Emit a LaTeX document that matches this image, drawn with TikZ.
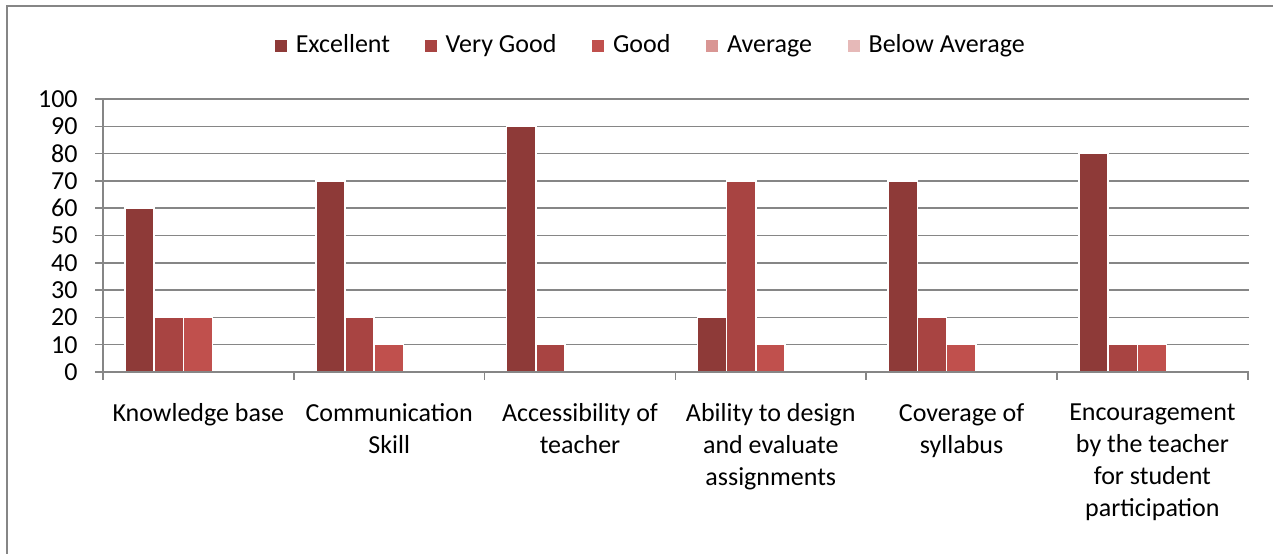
\documentclass[tikz,border=0pt]{standalone}
\usepackage{fontspec}
\setmainfont{Carlito}
\usetikzlibrary{positioning}

\definecolor{excellent}{HTML}{8E3A38}
\definecolor{verygood}{HTML}{A84442}
\definecolor{good}{HTML}{C0504D}
\definecolor{average}{HTML}{D99694}
\definecolor{belowavg}{HTML}{E6B9B8}
\definecolor{axisgray}{HTML}{868686}

\tikzset{
  gridline/.style={axisgray, line width=0.75pt},
  bar/.style={fill=#1, draw=white, line width=0.75pt},
  legkey/.style={fill=#1, minimum size=6pt, inner sep=0pt},
  legtext/.style={inner sep=0pt, text height=0.8em, text depth=0.2em},
  catlabel/.style={anchor=north, align=center, inner sep=0pt}
}

\begin{document}
\begin{tikzpicture}[x=0.5pt, y=-0.5pt, font=\fontsize{13}{16}\selectfont]
        \useasboundingbox (0,0) rectangle (1273,553);
        \clip (0,0) rectangle (1273,553);
        \draw[axisgray, line width=1pt] (7,6) rectangle (1300,580);

        % legend
        \node[legkey=excellent] (kexc) at (281,46) {};
        \node[legtext, right=4pt of kexc] (lexc) {Excellent};
        \node[legkey=verygood, right=17pt of lexc] (kvg) {};
        \node[legtext, right=4pt of kvg] (lvg) {Very Good};
        \node[legkey=good, right=17.5pt of lvg] (kgood) {};
        \node[legtext, right=4pt of kgood] (lgood) {Good};
        \node[legkey=average, right=17.5pt of lgood] (kavg) {};
        \node[legtext, right=4pt of kavg] (lavg) {Average};
        \node[legkey=belowavg, right=17.5pt of lavg] (kbel) {};
        \node[legtext, right=4pt of kbel] (lbel) {Below Average};

        % grid and value labels
        \foreach \v in {10,20,...,100}
            \draw[gridline] (95,{372-2.73*\v}) -- (1249,{372-2.73*\v});
        \foreach \v in {0,10,...,100}
            \node[anchor=east, inner sep=0pt] (val\v) at (78,{372-2.73*\v}) {\v};

        % bars: excellent, very good, good
        \foreach \i/\a/\b/\c in {0/60/20/20, 1/70/20/10, 2/90/10/0, 3/20/70/10, 4/70/20/10, 5/80/10/10}{
            \pgfmathsetmacro\xl{103+190.8*\i+22}
            \filldraw[bar=excellent] (\xl,372) rectangle ++(29.2,{-2.73*\a});
            \filldraw[bar=verygood] (\xl+29.2,372) rectangle ++(29.2,{-2.73*\b});
            \ifnum\c>0
                \filldraw[bar=good] (\xl+58.4,372) rectangle ++(29.2,{-2.73*\c});
            \fi
        }

        % axes
        \draw[gridline] (103,99) -- (103,372);
        \draw[gridline] (95,372) -- (1249,372);
        \foreach \i in {0,...,6}
            \draw[gridline] ({103+190.8*\i},372) -- ({103+190.8*\i},380);

        % category labels
        \foreach \i/\txt in {0/{Knowledge base}, 1/{Communication\\Skill}, 2/{Accessibility of\\teacher},
                3/{Ability to design\\and evaluate\\assignments}, 4/{Coverage of\\syllabus},
                5/{Encouragement\\by the teacher\\for student\\participation}}
            \node[catlabel] (cat\i) at ({198.4+190.8*\i},403) {\txt};
\end{tikzpicture}
\end{document}
